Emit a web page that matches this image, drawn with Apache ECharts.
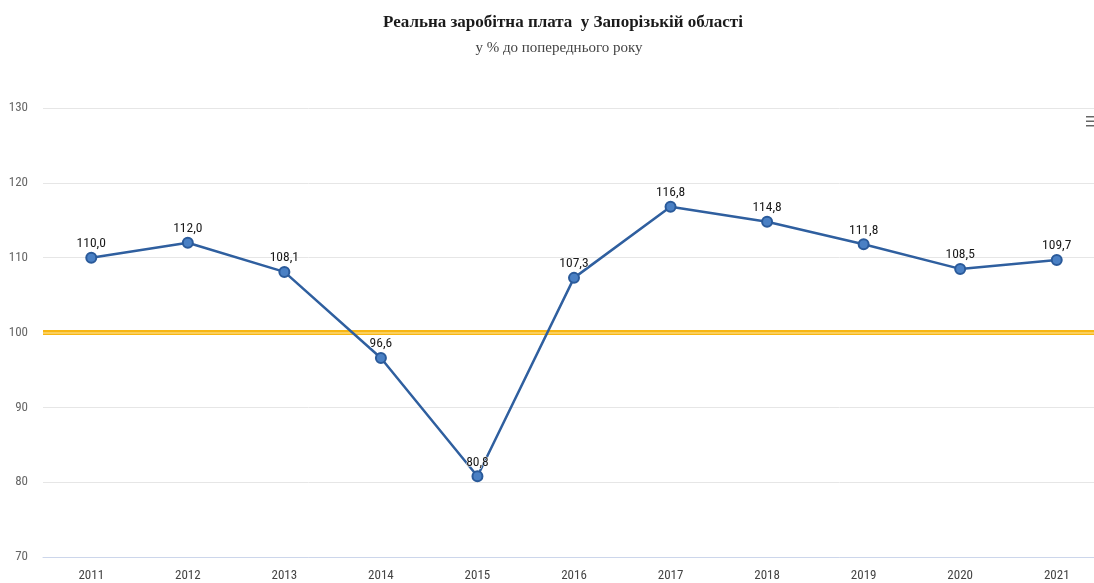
<!DOCTYPE html>
<html>
<head>
<meta charset="utf-8">
<script src="https://cdn.jsdelivr.net/npm/echarts@6/dist/echarts.min.js"></script>
<style>
  html, body { margin: 0; padding: 0; background: #fff; overflow: hidden; }
  /* сітка виходить за правий край вікна, як в оригіналі */
  #chart { width: 1105px; height: 583px; }
</style>
</head>
<body>
<div id="chart"></div>
<script>
// роки
var years = ['2011', '2012', '2013', '2014', '2015', '2016', '2017', '2018', '2019', '2020', '2021'];
// реальна зарплата, % до попереднього року
var wageIndex = [110.0, 112.0, 108.1, 96.6, 80.8, 107.3, 116.8, 114.8, 111.8, 108.5, 109.7];
// лінія 100%
var baseLine = [100];
var yTicks = [70, 80, 90, 100, 110, 120, 130];

var narrow = "'Liberation Sans Narrow', 'Roboto Condensed', 'DejaVu Sans Condensed', sans-serif";

var myChart = echarts.init(document.getElementById('chart'));

function baseMarkLine(color, width) {
  return {
    silent: true,
    symbol: 'none',
    label: { show: false },
    lineStyle: { color: color, width: width, type: 'solid', opacity: 1 },
    data: baseLine.map(function (v) { return { yAxis: v }; })
  };
}

var option = {
  animation: false,
  title: [
    {
      text: 'Реальна заробітна плата  у Запорізькій області',
      left: 558,
      top: 9,
      textAlign: 'center',
      textStyle: {
        fontFamily: "'Liberation Serif', serif",
        fontWeight: 'bold',
        fontSize: 17,
        color: '#1a1a1a'
      }
    },
    {
      text: 'у % до попереднього року',
      left: 554,
      top: 36,
      textAlign: 'center',
      textStyle: {
        fontFamily: "'Liberation Serif', serif",
        fontWeight: 'normal',
        fontSize: 15,
        color: '#444'
      }
    }
  ],
  grid: {
    left: 43,
    right: 0,
    top: 108,
    bottom: 26,
    containLabel: false
  },
  xAxis: {
    type: 'category',
    data: years,
    boundaryGap: true,
    axisLine: { lineStyle: { color: '#ccd6eb', width: 1 } },
    axisTick: { show: false },
    axisLabel: {
      margin: 12,
      fontFamily: narrow,
      fontSize: 13,
      color: '#444'
    }
  },
  yAxis: {
    type: 'value',
    min: yTicks[0],
    max: yTicks[yTicks.length - 1],
    interval: 10,
    axisLine: { show: false },
    axisTick: { show: false },
    splitLine: { lineStyle: { color: '#e6e6e6', width: 1 } },
    axisLabel: {
      margin: 15,
      fontFamily: narrow,
      fontSize: 13,
      color: '#666'
    }
  },
  graphic: [
    {
      type: 'group',
      right: 11,
      top: 116,
      children: [
        { type: 'rect', shape: { x: 0, y: 0, width: 8, height: 1.5 }, style: { fill: '#666' } },
        { type: 'rect', shape: { x: 0, y: 4.5, width: 8, height: 1.5 }, style: { fill: '#666' } },
        { type: 'rect', shape: { x: 0, y: 9, width: 8, height: 1.5 }, style: { fill: '#666' } }
      ]
    }
  ],
  series: [
    {
      type: 'line',
      data: [],
      markLine: baseMarkLine('#f7b614', 5),
      z: 3
    },
    {
      // світла смуга всередині лінії 100%
      type: 'line',
      data: [],
      markLine: baseMarkLine('#fcd774', 1.5),
      z: 4
    },
    {
      name: 'Реальна заробітна плата',
      type: 'line',
      data: wageIndex,
      symbol: 'circle',
      symbolSize: 10,
      lineStyle: { color: '#2f5f9f', width: 2.5 },
      itemStyle: { color: '#4a80c4', borderColor: '#2a5a9a', borderWidth: 2 },
      label: {
        show: true,
        position: 'top',
        distance: 1,
        fontFamily: narrow,
        fontSize: 13.5,
        color: '#1a1a1a',
        textBorderColor: '#fff',
        textBorderWidth: 1,
        formatter: function (p) {
          return p.value.toFixed(1).replace('.', ',');
        }
      },
      z: 5
    }
  ]
};

myChart.setOption(option);
</script>
</body>
</html>
